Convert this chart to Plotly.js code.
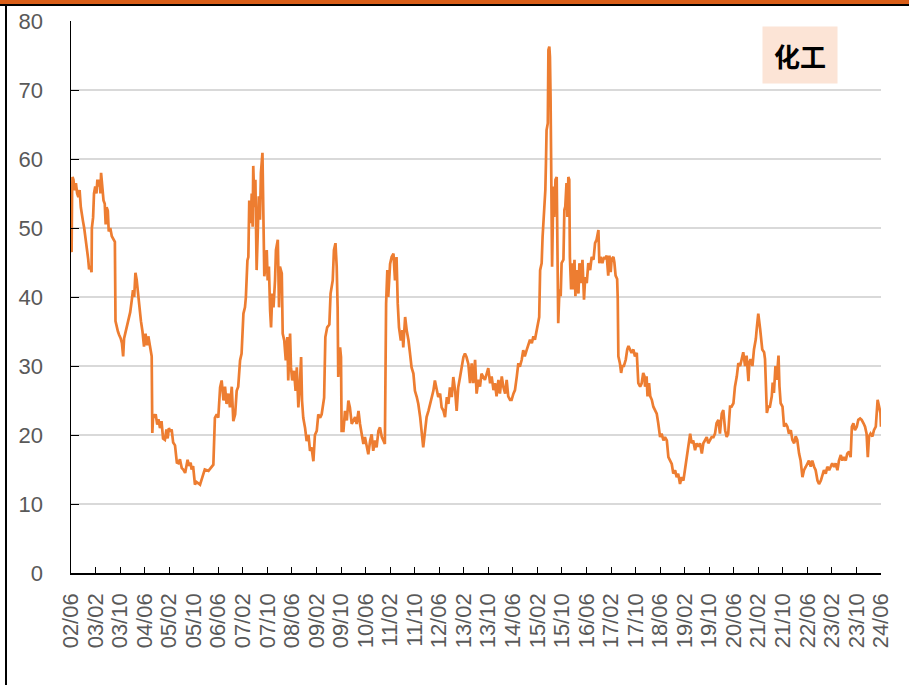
<!DOCTYPE html>
<html>
<head>
<meta charset="utf-8">
<script src="https://cdn.plot.ly/plotly-3.0.1.min.js"></script>
<style>
  html, body { margin: 0; padding: 0; background: #fff; }
  #wrap { position: relative; width: 909px; height: 685px; overflow: hidden; }
  #chart { position: absolute; left: 0; top: 0; width: 909px; height: 685px; }
  .bar-top { position: absolute; left: 0; top: 0; width: 909px; height: 4px; background: #D95E18; z-index: 5; }
  .line-top { position: absolute; left: 0; top: 4px; width: 909px; height: 2px; background: #000; z-index: 5; }
  .line-left { position: absolute; left: 5px; top: 4px; width: 2px; height: 681px; background: #000; z-index: 5; }
</style>
</head>
<body>
<div id="wrap">
  <div id="chart"></div>
  <div class="bar-top"></div>
  <div class="line-top"></div>
  <div class="line-left"></div>
</div>
<script>
// Time in months since 2002/06, PE value of 化工 (chemical) sector
const months = [
0.0,0.1,0.2,0.35,0.5,0.8,1.0,1.3,1.6,2.0,2.4,2.8,3.2,3.5,3.9,4.3,4.6,5.0,5.3,5.6,5.9,6.3,6.7,6.8,7.2,7.5,7.9,8.3,8.6,9.0,9.3,9.6,9.8,10.2,10.6,11.0,11.3,11.6,12.0,12.3,12.8,13.3,13.8,14.3,14.5,14.9,15.3,15.7,16.2,16.6,17.0,17.3,17.7,18.3,18.8,19.3,19.8,20.2,20.6,21.0,21.4,21.9,22.3,22.8,23.3,23.8,24.3,24.8,25.2,25.8,26.3,26.5,26.8,27.2,27.6,28.1,28.5,29.0,29.5,30.0,30.6,31.1,31.5,31.9,32.4,32.8,33.3,33.9,34.5,35.0,35.5,36.1,36.6,37.2,37.6,38.0,38.5,39.0,39.3,39.8,40.4,40.9,41.5,
42.05,43.1,43.6,44.8,45.9,46.4,46.9,47.5,48.0,48.6,49.1,49.7,50.2,50.7,51.3,51.8,52.4,52.9,53.5,54.0,54.5,55.1,55.6,55.9,56.2,56.7,57.0,57.5,57.8,58.1,58.6,58.9,59.2,59.4,59.8,60.1,60.5,60.8,61.2,61.6,61.9,62.4,62.7,63.0,63.4,63.8,64.1,64.5,64.9,65.2,65.6,66.0,66.5,66.8,67.4,67.8,68.1,68.7,69.0,69.5,70.0,70.5,70.8,71.4,71.7,72.1,72.7,73.2,73.6,74.1,74.6,75.0,75.3,75.7,76.3,76.8,77.4,77.9,78.4,79.0,79.5,80.1,80.6,81.2,81.7,82.5,82.9,83.5,84.2,84.6,85.3,85.7,86.2,
86.6,86.9,87.1,87.7,88.0,88.2,88.8,89.3,89.9,90.4,90.9,91.5,92.0,92.6,93.1,93.7,94.2,94.7,95.3,95.8,96.4,96.9,97.5,98.0,98.5,99.1,99.6,100.2,100.7,101.3,101.8,102.3,102.7,103.1,103.4,104.0,104.5,105.1,105.6,106.1,106.5,106.9,107.5,108.0,108.3,108.9,109.4,110.0,110.5,111.0,111.6,112.1,112.7,113.2,113.8,114.3,114.8,115.4,115.9,116.5,117.0,117.6,118.1,118.6,119.2,119.7,120.3,120.8,121.4,121.9,122.5,123.0,123.5,124.1,124.6,125.2,125.7,126.2,126.8,127.3,127.9,128.4,128.9,129.5,
130.05,130.6,131.1,131.7,132.2,132.8,133.3,133.8,134.4,134.9,135.5,136.0,136.6,137.1,137.7,138.2,138.7,139.3,139.8,140.4,140.9,141.5,142.0,142.5,143.1,143.6,144.2,144.7,145.3,145.8,146.3,146.9,147.4,147.9,148.5,149.1,149.6,150.2,150.7,151.2,151.8,152.3,152.6,152.9,153.4,153.7,153.9,154.3,154.6,154.8,155.0,155.4,155.6,155.9,156.1,156.3,156.6,156.8,157.0,157.2,157.5,157.9,158.3,158.5,158.8,159.2,159.6,159.9,160.5,160.8,161.1,161.5,161.8,162.1,162.4,162.6,163.0,163.3,163.7,164.1,164.4,164.8,165.4,165.7,166.2,166.7,167.2,167.6,168.1,168.6,169.2,169.7,170.3,170.8,171.3,171.9,172.2,172.6,173.2,173.7,
174.05,174.6,175.1,175.5,175.9,176.2,176.8,177.1,177.5,178.0,178.2,178.4,178.9,179.3,179.7,180.2,180.8,181.3,181.7,182.2,182.7,183.3,183.8,184.4,184.7,184.9,185.5,186.0,186.5,186.9,187.1,187.6,187.9,188.4,188.8,189.3,189.8,190.3,190.9,191.4,192.0,192.5,193.1,193.6,194.2,194.7,195.2,195.8,196.3,196.9,197.4,197.9,198.5,199.0,199.6,200.1,200.7,201.2,201.8,202.3,202.8,203.4,203.9,204.5,205.0,205.6,206.1,206.6,207.2,207.7,208.3,208.8,209.4,209.9,210.4,211.0,211.5,212.1,212.6,213.2,213.7,214.2,214.8,215.3,215.9,216.4,217.0,217.5,
218.1,218.6,219.1,219.7,220.2,220.8,221.1,221.5,222.1,222.6,223.2,223.5,224.0,224.6,224.9,225.3,225.9,226.2,226.5,226.8,227.3,227.8,228.4,228.7,229.1,229.6,230.0,230.6,230.9,231.3,231.9,232.4,232.9,233.5,234.0,234.6,235.1,235.7,236.2,236.7,237.3,237.8,238.4,238.9,239.5,240.0,240.5,241.1,241.6,242.2,242.7,243.3,243.8,244.4,244.9,245.4,246.0,246.5,247.1,247.6,248.1,248.7,249.2,249.8,250.3,250.9,251.4,251.9,252.5,253.0,253.6,254.1,254.5,255.0,255.5,256.1,256.6,257.2,257.7,258.3,258.8,259.3,259.7,260.1,260.6,261.2,261.7,262.3,262.6,262.9,263.4,263.8,264.0
];
const pe = [
48,54,46.5,55,57.4,57,56,55.5,56.5,55,54.5,55.5,53,51.7,51,50,49,48,47.3,45.5,44,44.5,43.6,50,51.5,55,56,55,57,56,57,55,58,56,54,53.5,50.5,53,52.5,49.5,50,48.8,48.3,48,36.5,35.5,35,34.5,34,33.3,31.4,34,34.8,35.8,36.5,37.8,39.5,41,40,43.5,42.5,40,38,36.5,35,32.8,34.7,33,34.3,32.5,31.4,20.3,23,22.5,23,21.5,22.3,21,22,19.5,19.3,20.8,19.5,21,20.5,20.8,18.9,18.5,16,15.9,16.5,15.2,15,14.5,15.5,16.4,15.5,16,15,15.5,12.8,13.2,13,
12.8,14.3,15.0,14.8,15.5,15.7,22.5,23,22.5,26.9,27.9,25,27,24.5,26,24,27,22,23,26.4,27,30.8,31.8,34.7,37.6,38.5,40,45.3,45.8,54,50.7,55,50.2,59,53,57,43.9,48.3,54.6,51.2,58,60.9,48.3,43,44.4,46.8,42.4,44.4,38,35.6,40.5,38.5,42.4,46.8,48.3,38.5,44.4,43.4,34.7,33.7,30.8,34.2,27.9,34.7,29.8,27.9,29.3,26.4,29.8,24,27.4,31.3,25,22.5,21,19.1,20,17.7,18.2,16.2,20,20.6,23,22.5,23,25.4,34.2,35.6,36,40.5,42.4,46.8,47.8,
44.4,38.5,28.4,32.7,31.3,20.6,20.6,23.5,22.1,25,24,21.6,22.1,22.6,21.6,23.5,21.6,20.1,18.7,19.7,18.2,17.2,19.2,20.1,17.7,19.2,18.2,20.6,21.1,19.7,19.2,18.7,39,43.9,40,44.8,45.8,46.3,42.4,45.8,39,35.6,33.7,35.2,32.7,37.1,35.2,33.7,31.8,29.8,28.9,26.4,25.5,24.5,22.6,20.6,18.2,20.6,22.6,23.5,24.5,25.5,26.4,27.9,26.4,25.5,26,24,23.5,22.6,25.5,24.5,26.9,25.5,28.4,26.4,23.5,26.9,28.4,29.8,31.3,31.8,31.3,30.3,
27.5,30.4,27.5,30.9,26,28,27,28.9,28.5,28,28.9,29.7,27.5,28.5,26.5,27.5,25.6,28,26,28.5,27,26,28,25.6,25.1,25.1,26,26.5,28.5,30.4,29.9,30.9,32.3,31.4,32.3,33.3,33.8,33.3,34.3,33.8,35.2,36.2,37.1,43.9,44.9,48.7,50.2,53.6,55.5,59.4,64.2,65.2,75.8,76.3,74.8,69,56,44.4,49.7,56,51.6,57,57.4,42,36.2,41.1,40.1,44.9,45.4,52.6,53.1,56.5,51.6,57.4,57,45.8,41.1,44.9,41.1,45.4,40.1,43.9,40.5,44.9,42,45.4,39.6,42.9,42,44.9,43.9,45.8,45.4,47.8,48.3,49.7,44.9,45.8,44.9,45.8,
45.5,46,43.1,46,43.6,45.5,45.8,45,43.1,42.6,39.7,31.4,30.4,29,30,30,30.9,32.4,32.9,32.4,31.9,32.4,31.4,31.9,28.5,27.5,27,27.5,29,28.5,27,28.5,25.6,27.5,25.6,25.1,24.1,23.6,23.1,21.7,19.7,20.2,19.2,19.7,19.2,16.8,16.3,15.8,14.4,14.9,13.9,14.4,12.9,13.9,13.4,14.9,16.8,17.8,20.2,18.8,19.2,17.8,18.8,18.3,18.8,17.3,18.8,19.2,19.7,18.8,19.2,19.7,19.7,20.2,21.7,22.2,20.2,23.1,23.6,20.7,19.7,20.2,24.1,24.1,24.6,27,28.5,30.4,
30,31,32,30,31.5,27.8,30.5,31,30,32.4,33.9,35.4,37.6,35.4,33.9,32.4,32,31,27.1,23.2,24.1,24.1,25.6,27.6,26.1,30,28,31.5,27.1,24.6,24.1,21.2,21.7,21.2,20.2,20.7,19.3,18.8,19.8,19.3,17.3,16.3,13.9,14.9,15.4,15.9,16.3,15.4,16.3,15.4,14.9,13.4,12.9,13.4,14.4,14.9,14.4,15.4,14.9,15.4,15.9,15.4,15.9,14.9,16.3,17.1,16.3,16.8,16.3,17.3,17.6,16.8,21.2,21.7,20.7,21.2,22.2,22.4,22.2,21.7,21.2,20.2,16.8,19.8,20.2,19.8,20.7,21.2,23.7,25.1,24.1,23.2,21.2
];
const tickMonths = [0,8,16,24,32,40,48,56,64,72,80,88,96,104,112,120,128,136,144,152,160,168,176,184,192,200,208,216,224,232,240,248,256,264];
const tickLabels = ["02/06","03/02","03/10","04/06","05/02","05/10","06/06","07/02","07/10","08/06","09/02","09/10","10/06","11/02","11/10","12/06","13/02","13/10","14/06","15/02","15/10","16/06","17/02","17/10","18/06","19/02","19/10","20/06","21/02","21/10","22/06","23/02","23/10","24/06"];
const yTicks = [0,10,20,30,40,50,60,70,80];
const sectorLabel = "化工";

const trace = {
  x: months, y: pe, type: 'scatter', mode: 'lines',
  line: {color: '#ED7D31', width: 2.7},
  hoverinfo: 'skip'
};

const layout = {
  width: 909, height: 685,
  margin: {l: 71, r: 28, t: 21, b: 112, pad: 0},
  paper_bgcolor: 'rgba(0,0,0,0)', plot_bgcolor: 'rgba(0,0,0,0)',
  showlegend: false,
  font: {family: 'Liberation Sans, Arial, sans-serif', color: '#595959'},
  xaxis: {
    range: [0, 264], tickmode: 'array', tickvals: tickMonths, ticktext: tickLabels,
    tickangle: -90, ticks: 'inside', ticklen: 6, tickcolor: '#000', tickwidth: 1,
    showline: true, linecolor: '#000', linewidth: 1.5, showgrid: false, zeroline: false,
    tickfont: {size: 22, color: '#595959'}, ticklabelstandoff: 10, fixedrange: true
  },
  yaxis: {
    range: [0, 80], tickmode: 'array', tickvals: yTicks,
    ticks: 'inside', ticklen: 8, tickcolor: '#000', tickwidth: 1,
    showline: true, linecolor: '#000', linewidth: 1.5,
    showgrid: true, gridcolor: '#D9D9D9', gridwidth: 2, zeroline: false,
    tickfont: {size: 22, color: '#595959'}, ticklabelstandoff: 22, fixedrange: true
  },
  annotations: [{
    xref: 'paper', yref: 'paper', x: 0.9, y: 0.9384,
    xanchor: 'center', yanchor: 'middle',
    text: '<b>' + sectorLabel + '</b>', showarrow: false,
    font: {family: 'Noto Sans CJK SC, sans-serif', size: 26, color: '#000'},
    bgcolor: '#FCE4D6', borderpad: 0, width: 74, height: 56
  }]
};

Plotly.newPlot('chart', [trace], layout, {staticPlot: true, displayModeBar: false});
</script>
</body>
</html>
